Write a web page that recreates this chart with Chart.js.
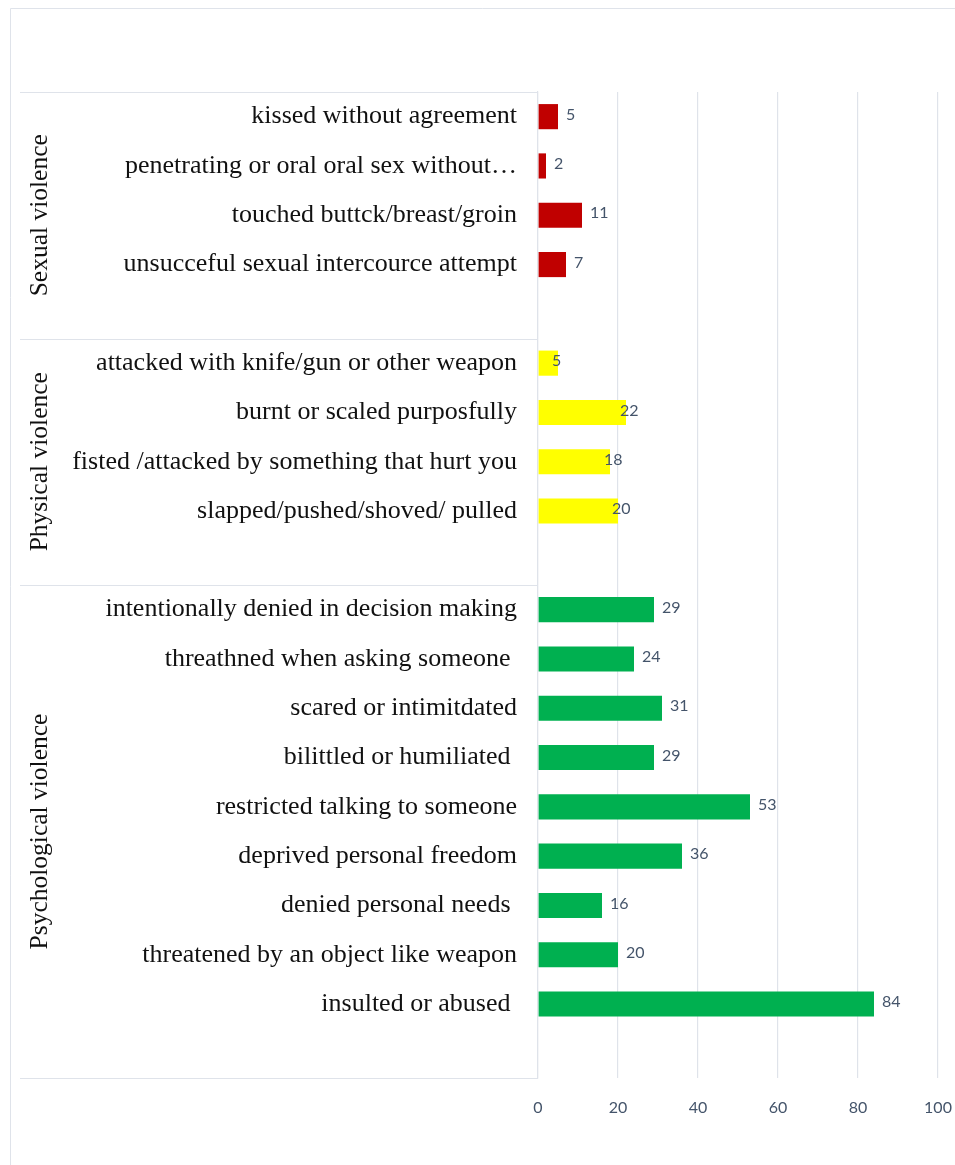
<!DOCTYPE html>
<html>
<head>
<meta charset="utf-8">
<script src="https://cdn.jsdelivr.net/npm/chart.js@4.4.1/dist/chart.umd.min.js"></script>
<style>
html,body{margin:0;padding:0;background:#fff;}
#wrap{width:955px;height:1165px;position:relative;}
</style>
</head>
<body>
<div id="wrap"><canvas id="c" width="955" height="1165"></canvas></div>
<script>
// ---- data ----
const groupNames = ['Sexual violence', 'Physical violence', 'Psychological violence'];
const sexualLabels = ['kissed without agreement', 'penetrating or oral oral sex without…', 'touched buttck/breast/groin', 'unsucceful sexual intercource attempt'];
const sexualValues = [5, 2, 11, 7];
const physicalLabels = ['attacked with knife/gun or other weapon', 'burnt or scaled purposfully', 'fisted /attacked by something that hurt you', 'slapped/pushed/shoved/ pulled'];
const physicalValues = [5, 22, 18, 20];
const psychLabels = ['intentionally denied in decision making', 'threathned when asking someone ', 'scared or intimitdated', 'bilittled or humiliated ', 'restricted talking to someone', 'deprived personal freedom', 'denied personal needs ', 'threatened by an object like weapon', 'insulted or abused '];
const psychValues = [29, 24, 31, 29, 53, 36, 16, 20, 84];
const xTicks = [0, 20, 40, 60, 80, 100];

// ---- build category axis (one empty row after each group) ----
const groups = [
  {labels: sexualLabels, values: sexualValues, color: '#C00000', off: 8},
  {labels: physicalLabels, values: physicalValues, color: '#FFFF00', off: -6},
  {labels: psychLabels, values: psychValues, color: '#00B050', off: 8}
];
const labels = [];
const spans = [];
groups.forEach(g => {
  const start = labels.length;
  g.labels.forEach(l => labels.push(l));
  labels.push('');
  spans.push([start, labels.length]);
});
const datasets = groups.map((g, gi) => {
  const data = labels.map(() => null);
  for (let i = 0; i < g.values.length; i++) data[spans[gi][0] + i] = g.values[i];
  return {data, backgroundColor: g.color, borderWidth: 0, grouped: false,
          categoryPercentage: 1, barPercentage: 0.51, labelOffset: g.off};
});

const frameColor = '#dfe3ea';
const serif = '"Liberation Serif", "Times New Roman", serif';
const sans = 'Lato, "Open Sans", sans-serif';

const framePlugin = {
  id: 'frame',
  beforeDraw(chart) {
    const ctx = chart.ctx;
    ctx.save();
    ctx.strokeStyle = frameColor;
    ctx.lineWidth = 1;
    ctx.beginPath();
    ctx.moveTo(10.5, 1165); ctx.lineTo(10.5, 8.5); ctx.lineTo(955, 8.5);
    ctx.stroke();
    ctx.restore();
  },
  afterDraw(chart) {
    const ctx = chart.ctx, y = chart.scales.y, area = chart.chartArea;
    const step = y.getPixelForValue(1) - y.getPixelForValue(0);
    ctx.save();
    ctx.strokeStyle = frameColor;
    ctx.lineWidth = 1.2;
    const bounds = [];
    spans.forEach(s => bounds.push(y.getPixelForValue(s[0]) - step / 2));
    bounds.push(y.getPixelForValue(spans[spans.length - 1][1] - 1) + step / 2);
    bounds.forEach(b => {
      ctx.beginPath();
      ctx.moveTo(20, Math.round(b) + 0.5);
      ctx.lineTo(area.left, Math.round(b) + 0.5);
      ctx.stroke();
    });
    ctx.fillStyle = '#111';
    ctx.font = '25.5px ' + serif;
    ctx.textAlign = 'center';
    ctx.textBaseline = 'middle';
    groupNames.forEach((n, i) => {
      const cy = (bounds[i] + bounds[i + 1]) / 2;
      ctx.save();
      ctx.translate(40, cy);
      ctx.rotate(-Math.PI / 2);
      ctx.fillText(n, 0, 0);
      ctx.restore();
    });
    ctx.restore();
  },
  afterDatasetsDraw(chart) {
    const ctx = chart.ctx;
    ctx.save();
    ctx.fillStyle = '#44546A';
    ctx.font = '16px ' + sans;
    ctx.textAlign = 'left';
    ctx.textBaseline = 'middle';
    chart.data.datasets.forEach((ds, di) => {
      const meta = chart.getDatasetMeta(di);
      meta.data.forEach((el, i) => {
        if (ds.data[i] === null) return;
        ctx.fillText(String(ds.data[i]), el.x + ds.labelOffset, el.y - 2);
      });
    });
    ctx.restore();
  }
};

new Chart(document.getElementById('c'), {
  type: 'bar',
  data: {labels, datasets},
  options: {
    indexAxis: 'y',
    responsive: false,
    animation: false,
    layout: {padding: {top: 92, right: 0, bottom: 0, left: 0}},
    plugins: {legend: {display: false}, tooltip: {enabled: false}},
    scales: {
      x: {
        min: 0, max: 100,
        afterBuildTicks(scale) { scale.ticks = xTicks.map(v => ({value: v})); },
        afterFit(scale) { scale.height = 87; scale.paddingRight = 17; },
        grid: {color: frameColor, lineWidth: 1.2, drawTicks: false},
        border: {display: false},
        ticks: {padding: 20, color: '#44546A', font: {family: sans, size: 16}}
      },
      y: {
        afterFit(scale) { scale.width = 538; },
        grid: {display: false, drawTicks: false},
        border: {display: true, color: frameColor, width: 1.2},
        ticks: {padding: 21, color: '#111', autoSkip: false,
                font: {family: serif, size: 26}}
      }
    }
  },
  plugins: [framePlugin]
});
</script>
</body>
</html>
